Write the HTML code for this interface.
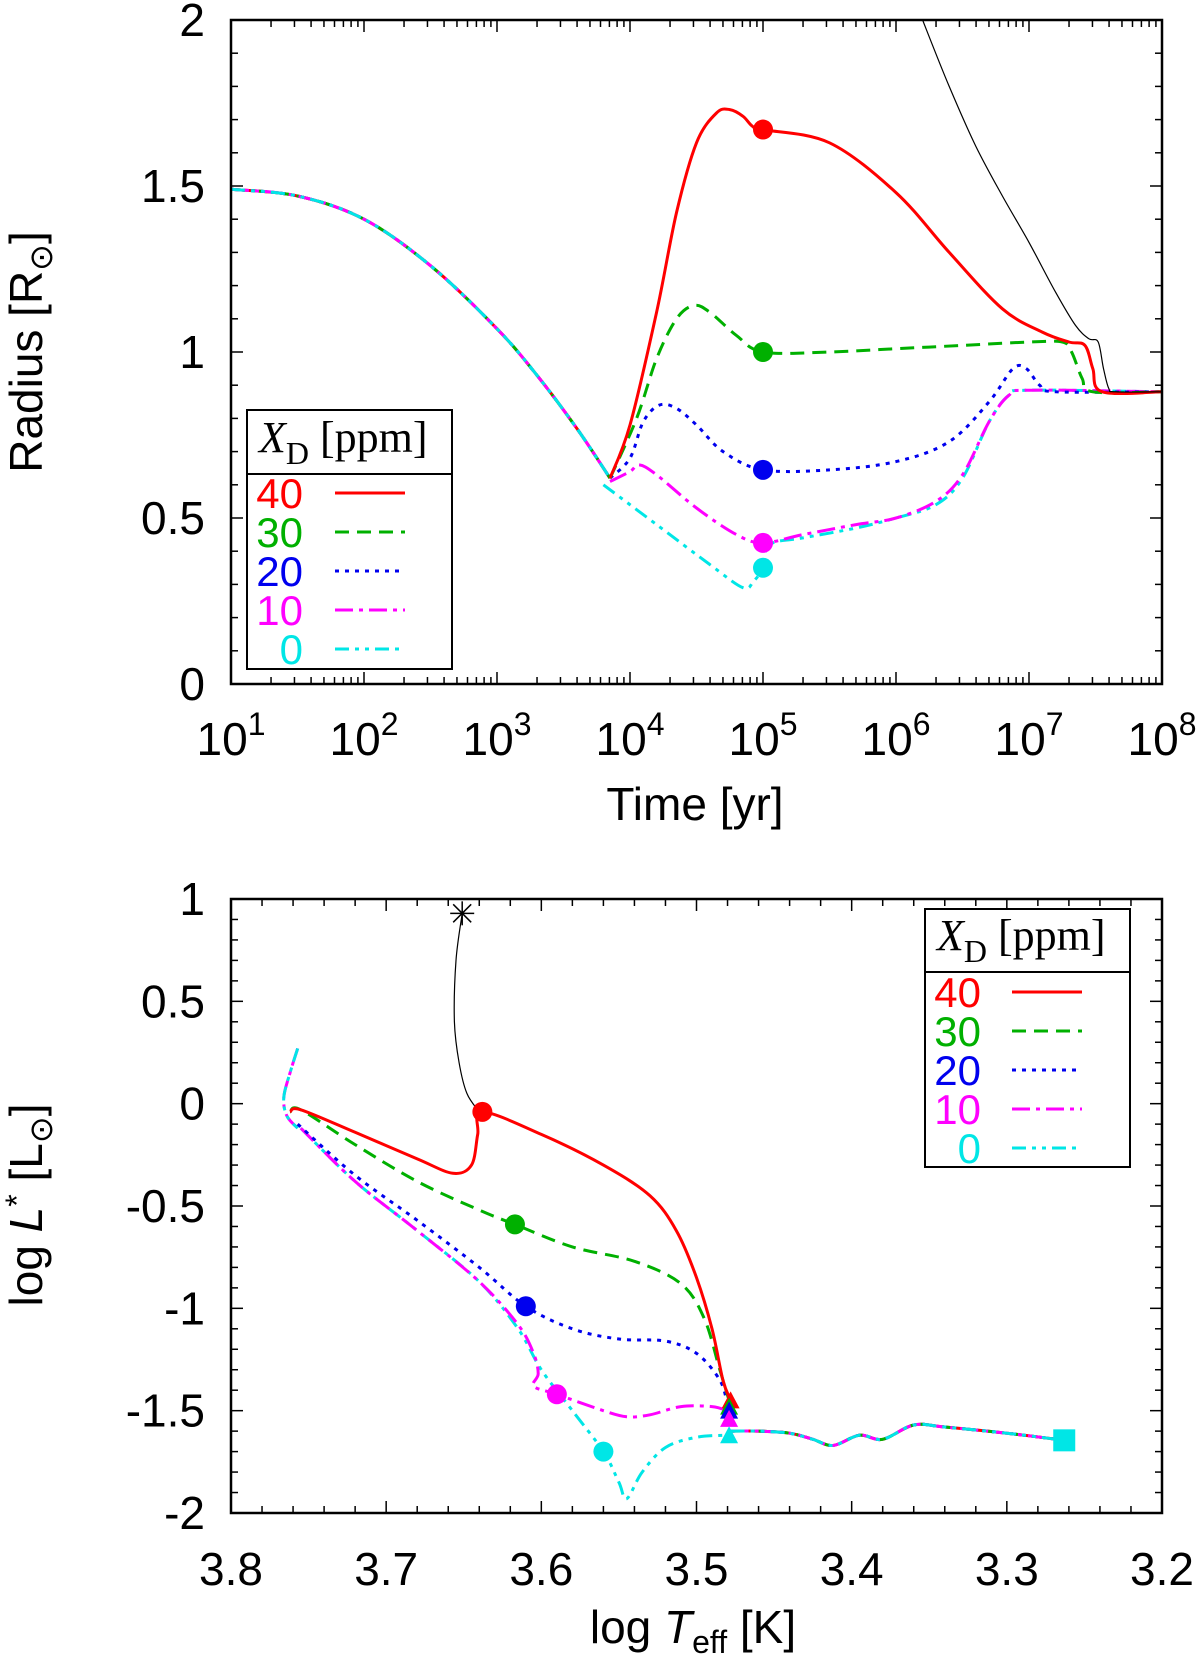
<!DOCTYPE html>
<html><head><meta charset="utf-8"><style>
html,body{margin:0;padding:0;background:#fff;}
svg{display:block;font-family:"Liberation Sans",sans-serif;}
</style></head><body>
<svg id="fig" width="1200" height="1665" viewBox="0 0 1200 1665" xmlns="http://www.w3.org/2000/svg"></svg>
<script>
// ---------- Top panel data (x: log10 time [yr], y: radius [Rsun]) ----------
const topCommon = [[1,1.49],[1.5,1.47],[2,1.40],[2.5,1.26],[3,1.07],[3.3,0.93],[3.6,0.77],[3.85,0.62]];
const topRed = [[3.85,0.62],[4.0,0.78],[4.2,1.12],[4.35,1.42],[4.5,1.63],[4.65,1.72],[4.75,1.73],[4.85,1.71],[4.92,1.68],[5.0,1.67],[5.5,1.63],[6.0,1.48],[6.4,1.30],[6.8,1.13],[7.1,1.06],[7.3,1.03],[7.42,1.02],[7.48,0.95],[7.55,0.88],[8,0.88]];
const topGreen = [[3.85,0.62],[4.05,0.8],[4.2,0.98],[4.35,1.1],[4.48,1.14],[4.6,1.12],[4.8,1.05],[5.0,1.0],[5.5,1.0],[6.0,1.01],[6.5,1.02],[7.0,1.03],[7.25,1.03],[7.32,1.0],[7.4,0.92],[7.48,0.88],[8,0.88]];
const topBlue = [[3.85,0.62],[4.0,0.68],[4.1,0.79],[4.22,0.84],[4.35,0.83],[4.5,0.78],[4.7,0.7],[5.0,0.645],[5.5,0.645],[6.0,0.67],[6.4,0.73],[6.7,0.85],[6.88,0.95],[6.98,0.95],[7.08,0.9],[7.2,0.88],[8,0.88]];
const topMagenta = [[3.85,0.61],[4.0,0.64],[4.07,0.66],[4.2,0.63],[4.5,0.53],[4.8,0.45],[5.0,0.425],[5.3,0.45],[5.7,0.48],[6.0,0.5],[6.3,0.55],[6.5,0.63],[6.7,0.79],[6.85,0.87],[7.0,0.885],[8,0.88]];
const topCyan = [[3.8,0.6],[4.2,0.48],[4.6,0.36],[4.85,0.29],[4.93,0.31],[5.0,0.35],[5.05,0.42],[5.3,0.44],[5.7,0.47],[6.0,0.5],[6.3,0.54],[6.5,0.62],[6.7,0.79],[6.85,0.87],[7.0,0.885],[8,0.88]];
const topBlack = [[6.2,2.0],[6.4,1.8],[6.6,1.62],[6.8,1.47],[7.0,1.33],[7.2,1.18],[7.35,1.08],[7.45,1.04],[7.52,1.03],[7.56,0.95],[7.6,0.89],[7.65,0.88],[8,0.88]];
const topMarkers = [[5,1.67],[5,1.0],[5,0.645],[5,0.425],[5,0.35]];
const topYTicks = [0,0.5,1,1.5,2];
const topYLabels = ["0","0.5","1","1.5","2"];
const topXTicks = [1,2,3,4,5,6,7,8];

// ---------- Bottom panel data (x: log Teff, y: log L) ----------
const hrStart = [[3.757,0.27],[3.762,0.15],[3.766,0.03],[3.764,-0.06],[3.757,-0.12]];
const hrRed = [[3.762,-0.04],[3.755,-0.03],[3.72,-0.14],[3.68,-0.27],[3.657,-0.34],[3.645,-0.3],[3.641,-0.15],[3.638,-0.04],[3.6,-0.15],[3.56,-0.3],[3.53,-0.45],[3.513,-0.62],[3.5,-0.85],[3.49,-1.1],[3.483,-1.35],[3.478,-1.45]];
const hrGreen = [[3.762,-0.04],[3.755,-0.03],[3.72,-0.2],[3.68,-0.38],[3.64,-0.52],[3.617,-0.59],[3.58,-0.7],[3.54,-0.77],[3.51,-0.88],[3.495,-1.05],[3.485,-1.3],[3.479,-1.45]];
const hrBlue = [[3.757,-0.1],[3.72,-0.35],[3.68,-0.57],[3.64,-0.8],[3.61,-0.99],[3.58,-1.1],[3.55,-1.15],[3.52,-1.16],[3.5,-1.22],[3.485,-1.35],[3.48,-1.47]];
const hrMagenta = [[3.755,-0.12],[3.72,-0.38],[3.68,-0.62],[3.64,-0.87],[3.615,-1.08],[3.605,-1.22],[3.602,-1.32],[3.605,-1.38],[3.59,-1.42],[3.56,-1.5],[3.545,-1.53],[3.53,-1.52],[3.51,-1.48],[3.49,-1.48],[3.48,-1.5]];
const hrCyan = [[3.755,-0.12],[3.72,-0.38],[3.68,-0.62],[3.64,-0.87],[3.615,-1.1],[3.6,-1.3],[3.58,-1.5],[3.56,-1.7],[3.55,-1.85],[3.545,-1.93],[3.535,-1.8],[3.52,-1.68],[3.5,-1.63],[3.48,-1.62]];
const hrTail = [[3.478,-1.6],[3.46,-1.6],[3.44,-1.61],[3.425,-1.64],[3.412,-1.67],[3.395,-1.62],[3.38,-1.64],[3.36,-1.57],[3.34,-1.58],[3.3,-1.61],[3.263,-1.645]];
const hrBlack = [[3.651,0.93],[3.655,0.7],[3.656,0.4],[3.653,0.2],[3.648,0.05],[3.64,-0.04]];
const hrCircles = [[3.638,-0.04],[3.617,-0.59],[3.61,-0.99],[3.59,-1.42],[3.56,-1.7]];
const hrTriangles = [[3.478,-1.45],[3.479,-1.48],[3.479,-1.5],[3.479,-1.54],[3.479,-1.62]];
const hrSquare = [3.263,-1.645];
const hrXTicks = [3.8,3.7,3.6,3.5,3.4,3.3,3.2];
const hrXLabels = ["3.8","3.7","3.6","3.5","3.4","3.3","3.2"];
const hrYTicks = [1,0.5,0,-0.5,-1,-1.5,-2];
const hrYLabels = ["1","0.5","0","-0.5","-1","-1.5","-2"];

const legendLabels = ["40","30","20","10","0"];
const colors = ["#ff0000","#00b000","#0000ee","#ff00ff","#00e6e6"];
const dashes = ["none","14 8","4 6","18 6 4 6","14 6 4 6 4 6"];

const NS = "http://www.w3.org/2000/svg";
const svg = document.getElementById('fig');
function mk(tag, attrs, parent){const e=document.createElementNS(NS,tag);for(const k in attrs)e.setAttribute(k,attrs[k]);(parent||svg).appendChild(e);return e;}

const L=231,R=1162,T1=20,B1=684,T2=899,B2=1513;
const tx = v => L+(v-1)/7*(R-L);
const ty = v => B1-v/2*(B1-T1);
const hx = v => L+(3.8-v)/0.6*(R-L);
const hy = v => B2-(v+2)/3*(B2-T2);

function pathD(pts,fx,fy){
  const P=pts.map(p=>[fx(p[0]),fy(p[1])]);
  let d='M'+P[0][0].toFixed(1)+' '+P[0][1].toFixed(1);
  for(let i=0;i<P.length-1;i++){
    const p0=P[i-1]||P[i],p1=P[i],p2=P[i+1],p3=P[i+2]||P[i+1];
    const c1x=p1[0]+(p2[0]-p0[0])/6,c1y=p1[1]+(p2[1]-p0[1])/6;
    const c2x=p2[0]-(p3[0]-p1[0])/6,c2y=p2[1]-(p3[1]-p1[1])/6;
    d+=' C'+c1x.toFixed(1)+' '+c1y.toFixed(1)+' '+c2x.toFixed(1)+' '+c2y.toFixed(1)+' '+p2[0].toFixed(1)+' '+p2[1].toFixed(1);
  }
  return d;
}
function curve(pts,fx,fy,col,dash,w,name,clip){
  const p=mk('path',{d:pathD(pts,fx,fy),fill:'none',stroke:col,'stroke-width':w,'stroke-dasharray':dash,'stroke-linejoin':'round','clip-path':clip});
  
  
  return p;
}
const defs=mk('defs',{});
const c1=mk('clipPath',{id:'c1'},defs);mk('rect',{x:L,y:T1,width:R-L,height:B1-T1},c1);
const c2=mk('clipPath',{id:'c2'},defs);mk('rect',{x:L,y:T2,width:R-L,height:B2-T2},c2);

function text(x,y,s,attrs,name){const t=mk('text',Object.assign({x:x,y:y,fill:'#000'},attrs));t.textContent=s;return t;}

// ===== Top panel =====
const topSeries=[topRed,topGreen,topBlue,topMagenta,topCyan];
const topNames=['series-40','series-30','series-20','series-10','series-0'];
for(let i=0;i<5;i++){curve(topCommon,tx,ty,colors[i],dashes[i],3,'common-'+topNames[i],'url(#c1)');}
for(let i=4;i>=0;i--){curve(topSeries[i],tx,ty,colors[i],dashes[i],3,topNames[i],'url(#c1)');}
curve(topBlack,tx,ty,'#000','none',1.2,'reference-black-curve','url(#c1)');
topMarkers.forEach((m,i)=>{const c=mk('circle',{cx:tx(m[0]),cy:ty(m[1]),r:10,fill:colors[i]});});
const f1=mk('rect',{x:L,y:T1,width:R-L,height:B1-T1,fill:'none',stroke:'#000','stroke-width':2.5});

for(let k=0;k<=20;k++){const v=k/10,y=ty(v),len=(k%5===0)?12:7;
  mk('line',{x1:L,y1:y,x2:L+len,y2:y,stroke:'#000','stroke-width':1.5});
  mk('line',{x1:R,y1:y,x2:R-len,y2:y,stroke:'#000','stroke-width':1.5});}
topYTicks.forEach((v,i)=>text(205,ty(v)+16,topYLabels[i],{'font-size':46,'text-anchor':'end'},'y-tick-label'));
for(let d=1;d<8;d++){for(let m=1;m<10;m++){const x=tx(d+Math.log10(m)),len=m===1?12:7;
  mk('line',{x1:x,y1:B1,x2:x,y2:B1-len,stroke:'#000','stroke-width':1.5});
  mk('line',{x1:x,y1:T1,x2:x,y2:T1+len,stroke:'#000','stroke-width':1.5});}}
topXTicks.forEach(v=>{const t=text(tx(v),755,'10',{'font-size':46,'text-anchor':'middle'},'x-tick-label');
  const s=mk('tspan',{dy:-20,'font-size':32},t);s.textContent=String(v);});
text(695,820,'Time [yr]',{'font-size':46,'text-anchor':'middle'},'x-axis-title');
const yt1=text(0,0,'Radius [R',{'font-size':46,'text-anchor':'middle',transform:'translate(42,352) rotate(-90)'},'y-axis-title');
{const s=mk('tspan',{'font-size':32,dy:10},yt1);s.textContent='⊙';const s2=mk('tspan',{dy:-10},yt1);s2.textContent=']';}

function legend(x0,y0,x1,y1,sep,textRight,lx0,lx1,firstY,name){
  const g=mk('g',{});
  mk('rect',{x:x0,y:y0,width:x1-x0,height:y1-y0,fill:'#fff',stroke:'#000','stroke-width':2},g);
  mk('line',{x1:x0,y1:sep,x2:x1,y2:sep,stroke:'#000','stroke-width':2},g);
  const h=mk('text',{x:x0+12,y:sep-22,'font-family':'Liberation Serif, serif','font-size':44,fill:'#000'},g);
  const a=mk('tspan',{'font-style':'italic'},h);a.textContent='X';
  const b=mk('tspan',{dy:12,'font-size':32},h);b.textContent='D';
  const c=mk('tspan',{dy:-12},h);c.textContent=' [ppm]';
  legendLabels.forEach((lab,i)=>{const y=firstY+i*39;
    const t=mk('text',{x:textRight,y:y+15,'font-size':42,'text-anchor':'end',fill:colors[i]},g);t.textContent=lab;
    
    const l=mk('line',{x1:lx0,y1:y,x2:lx1,y2:y,stroke:colors[i],'stroke-width':3,'stroke-dasharray':dashes[i]},g);
    });
}
legend(247,410,452,669,474,303,335,405,493,'top-legend');

// ===== Bottom panel =====
const hrSeries=[hrRed,hrGreen,hrBlue,hrMagenta,hrCyan];
for(let i=0;i<5;i++){curve(hrTail,hx,hy,colors[i],dashes[i],3,'tail-'+topNames[i],'url(#c2)');}
for(let i=3;i<5;i++){curve(hrStart,hx,hy,colors[i],dashes[i],3,'start-'+topNames[i],'url(#c2)');}
for(let i=4;i>=0;i--){curve(hrSeries[i],hx,hy,colors[i],dashes[i],3,'hr-'+topNames[i],'url(#c2)');}
curve(hrBlack,hx,hy,'#000','none',1.2,'hr-reference-black-curve','url(#c2)');
{const sx=hx(hrBlack[0][0]),sy=hy(hrBlack[0][1]);const g=mk('g',{stroke:'#000','stroke-width':1.5});
  
  mk('line',{x1:sx-12,y1:sy,x2:sx+12,y2:sy},g);mk('line',{x1:sx,y1:sy-12,x2:sx,y2:sy+12},g);
  mk('line',{x1:sx-9,y1:sy-9,x2:sx+9,y2:sy+9},g);mk('line',{x1:sx-9,y1:sy+9,x2:sx+9,y2:sy-9},g);}
hrCircles.forEach((m,i)=>{const c=mk('circle',{cx:hx(m[0]),cy:hy(m[1]),r:10,fill:colors[i]});});
hrTriangles.forEach((m,i)=>{const x=hx(m[0]),y=hy(m[1]);const p=mk('polygon',{points:`${x-9},${y+8} ${x+9},${y+8} ${x},${y-9}`,fill:colors[i]});});
{const x=hx(hrSquare[0]),y=hy(hrSquare[1]);const r=mk('rect',{x:x-11,y:y-11,width:22,height:22,fill:colors[4]});}
const f2=mk('rect',{x:L,y:T2,width:R-L,height:B2-T2,fill:'none',stroke:'#000','stroke-width':2.5});

for(let k=0;k<=30;k++){const v=-2+k/10,y=hy(v),len=(k%5===0)?12:7;
  mk('line',{x1:L,y1:y,x2:L+len,y2:y,stroke:'#000','stroke-width':1.5});
  mk('line',{x1:R,y1:y,x2:R-len,y2:y,stroke:'#000','stroke-width':1.5});}
for(let k=0;k<=30;k++){const v=3.2+k*0.02,x=hx(v),len=(k%5===0)?12:7;
  mk('line',{x1:x,y1:B2,x2:x,y2:B2-len,stroke:'#000','stroke-width':1.5});
  mk('line',{x1:x,y1:T2,x2:x,y2:T2+len,stroke:'#000','stroke-width':1.5});}
hrYTicks.forEach((v,i)=>text(205,hy(v)+16,hrYLabels[i],{'font-size':46,'text-anchor':'end'},'hr-y-tick-label'));
hrXTicks.forEach((v,i)=>text(hx(v),1585,hrXLabels[i],{'font-size':46,'text-anchor':'middle'},'hr-x-tick-label'));
{const t=text(693,1643,'log  ',{'font-size':46,'text-anchor':'middle'},'hr-x-axis-title');
 const a=mk('tspan',{'font-style':'italic'},t);a.textContent='T';
 const b=mk('tspan',{dy:10,'font-size':32},t);b.textContent='eff';
 const c=mk('tspan',{dy:-10},t);c.textContent=' [K]';}
{const t=text(0,0,'log ',{'font-size':46,'text-anchor':'middle',transform:'translate(42,1205) rotate(-90)'},'hr-y-axis-title');
 const a=mk('tspan',{'font-style':'italic'},t);a.textContent='L';
 const b=mk('tspan',{dy:-14,'font-size':32},t);b.textContent='*';
 const c=mk('tspan',{dy:14},t);c.textContent=' [L';
 const d=mk('tspan',{dy:10,'font-size':32},t);d.textContent='⊙';
 const e=mk('tspan',{dy:-10},t);e.textContent=']';}
legend(925,909,1130,1167,972,981,1012,1082,992,'bottom-legend');
</script>
</body></html>
